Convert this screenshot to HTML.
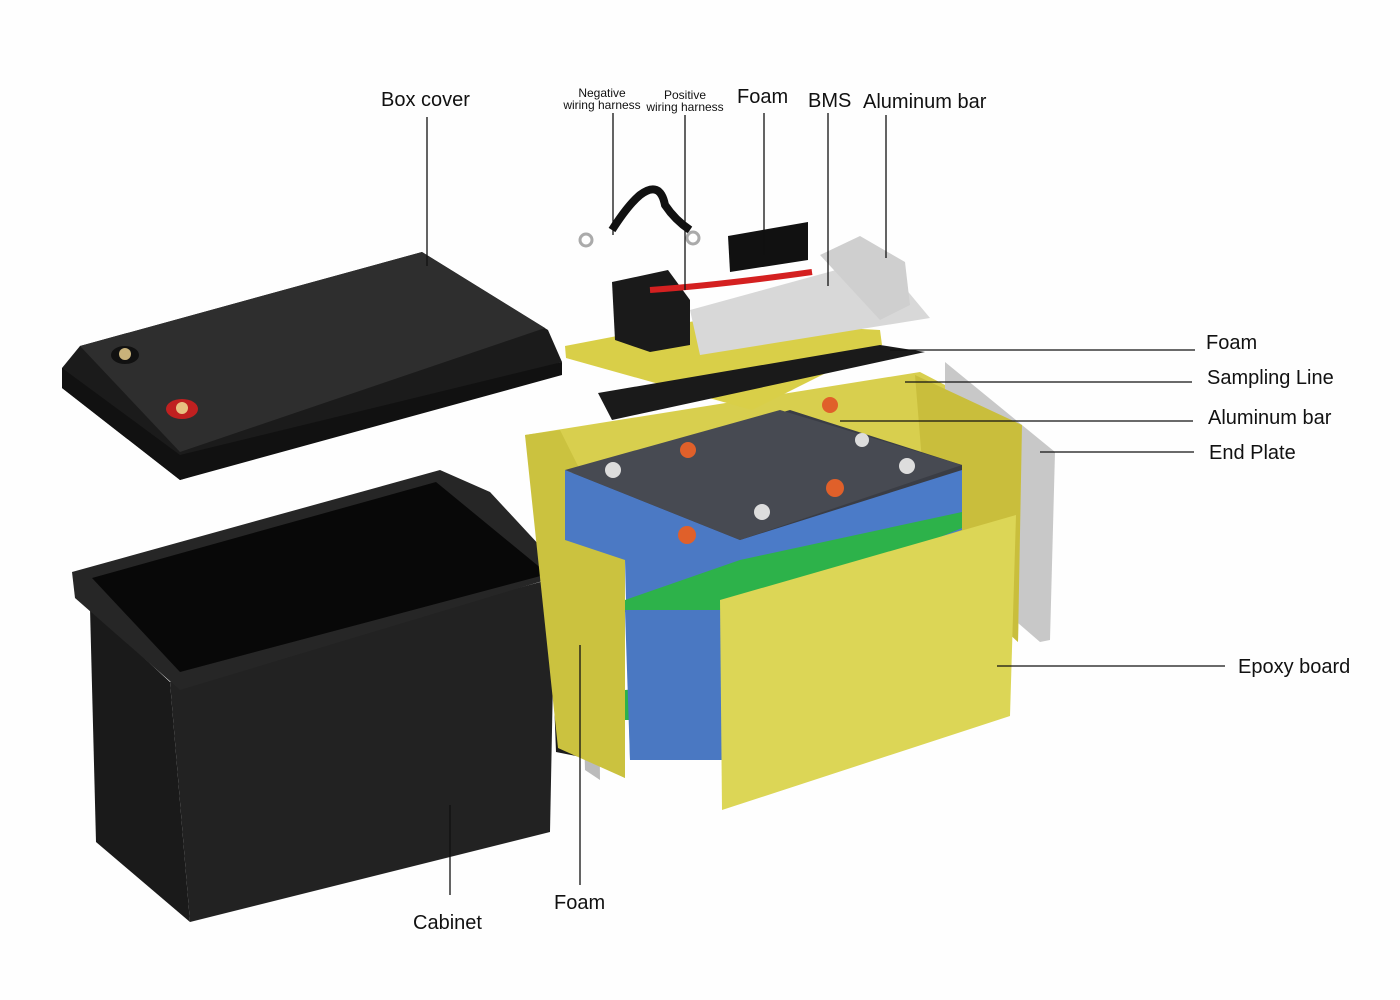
<!DOCTYPE html>
<html><head><meta charset="utf-8"><style>
html,body{margin:0;padding:0;background:#fefefe;}
svg{display:block}
text{font-family:"Liberation Sans","DejaVu Sans",sans-serif;fill:#111}
</style></head><body>
<svg width="1400" height="1000" viewBox="0 0 1400 1000" xmlns="http://www.w3.org/2000/svg">
<rect width="1400" height="1000" fill="#fefefe"/>
<!-- Box cover -->
<polygon points="62,368 80,346 422,252 548,330 562,362 180,480 62,388" fill="#1b1b1b"/>
<polygon points="80,346 422,252 545,328 180,452" fill="#2e2e2e"/>
<polygon points="62,368 180,455 562,362 562,375 180,480 62,388" fill="#111"/>
<ellipse cx="125" cy="355" rx="14" ry="9" fill="#111"/><circle cx="125" cy="354" r="6" fill="#c9b27a"/>
<ellipse cx="182" cy="409" rx="16" ry="10" fill="#c02020"/><circle cx="182" cy="408" r="6" fill="#e8c080"/>
<!-- Cabinet -->
<polygon points="90,608 170,682 190,922 96,842" fill="#1a1a1a"/>
<polygon points="170,682 555,578 550,832 190,922" fill="#222"/>
<polygon points="72,572 440,470 490,492 566,574 180,690 75,598" fill="#262626"/>
<polygon points="92,578 436,482 548,574 180,672" fill="#080808"/>
<!-- Foam strip -->
<polygon points="550,592 592,578 596,760 556,752" fill="#1c1c1c"/>
<polygon points="580,590 598,580 600,780 585,770" fill="#bbb"/>
<!-- yellow panels -->
<polygon points="525,435 920,372 1022,425 1018,642 930,560 625,560 625,778 560,745 540,520" fill="#d8cf4e"/>
<polygon points="525,435 560,430 625,560 625,778 558,748" fill="#cbc23f"/>
<polygon points="945,362 1055,452 1050,640 1040,642 945,560" fill="#c8c8c8"/>
<polygon points="915,375 1022,425 1018,642 930,560" fill="#c9be3c"/>
<!-- cells -->
<polygon points="565,475 790,410 962,465 962,520 740,585 565,530" fill="#3a3d45"/>
<polygon points="565,470 740,540 740,760 630,760 625,560 565,540" fill="#4b79c4"/>
<polygon points="740,540 962,470 962,530 740,600" fill="#4b7bc8"/>
<polygon points="565,470 780,410 962,465 740,540" fill="#474a52"/>
<polygon points="625,600 740,560 962,512 962,528 740,620 625,612" fill="#2db24a"/>
<polygon points="625,690 740,680 740,720 625,720" fill="#2db24a"/>
<polygon points="625,610 740,610 740,760 630,760" fill="#4a78c2"/>
<circle cx="687" cy="535" r="9" fill="#e0602a"/><circle cx="835" cy="488" r="9" fill="#e0602a"/><circle cx="688" cy="450" r="8" fill="#e0602a"/><circle cx="830" cy="405" r="8" fill="#e0602a"/>
<circle cx="613" cy="470" r="8" fill="#ddd"/><circle cx="762" cy="512" r="8" fill="#ddd"/><circle cx="907" cy="466" r="8" fill="#ddd"/><circle cx="862" cy="440" r="7" fill="#ddd"/>
<!-- front epoxy -->
<polygon points="720,600 1016,515 1010,716 722,810" fill="#dcd656"/>
<!-- top sheet & BMS -->
<polygon points="565,346 700,320 880,330 882,345 752,410 566,358" fill="#d9cf48"/>
<polygon points="598,393 880,345 925,352 612,420" fill="#1a1a1a"/>
<polygon points="612,282 668,270 690,300 690,345 650,352 615,340" fill="#1a1a1a"/>
<polygon points="690,310 880,258 930,318 700,355" fill="#d8d8d8"/>
<polygon points="820,255 860,236 905,262 910,305 880,320" fill="#cfcfcf"/>
<polygon points="728,236 808,222 808,260 730,272" fill="#111"/>
<path d="M650 290 Q720 285 812 272" stroke="#d42020" stroke-width="6" fill="none"/>
<path d="M612 230 Q628 205 640 195 Q660 180 665 205 Q675 220 690 230" stroke="#111" stroke-width="8" fill="none"/>
<circle cx="586" cy="240" r="6" fill="none" stroke="#aaa" stroke-width="3"/><circle cx="693" cy="238" r="6" fill="none" stroke="#aaa" stroke-width="3"/>
<!-- leader lines -->
<g stroke="#111" stroke-width="1.3" fill="none">
<line x1="427" y1="117" x2="427" y2="266"/>
<line x1="613" y1="113" x2="613" y2="235"/>
<line x1="685" y1="115" x2="685" y2="290"/>
<line x1="764" y1="113" x2="764" y2="255"/>
<line x1="828" y1="113" x2="828" y2="286"/>
<line x1="886" y1="115" x2="886" y2="258"/>
<line x1="890" y1="350" x2="1195" y2="350"/>
<line x1="905" y1="382" x2="1192" y2="382"/>
<line x1="840" y1="421" x2="1193" y2="421"/>
<line x1="1040" y1="452" x2="1194" y2="452"/>
<line x1="997" y1="666" x2="1225" y2="666"/>
<line x1="450" y1="805" x2="450" y2="895"/>
<line x1="580" y1="645" x2="580" y2="885"/>
</g>
<g font-size="20">
<text x="381" y="106">Box cover</text>
<text x="737" y="103">Foam</text>
<text x="808" y="107">BMS</text>
<text x="863" y="108">Aluminum bar</text>
<text x="1206" y="349">Foam</text>
<text x="1207" y="384">Sampling Line</text>
<text x="1208" y="424">Aluminum bar</text>
<text x="1209" y="459">End Plate</text>
<text x="1238" y="673">Epoxy board</text>
<text x="413" y="929">Cabinet</text>
<text x="554" y="909">Foam</text>
</g>
<g font-size="12" text-anchor="middle">
<text x="602" y="97">Negative</text><text x="602" y="109">wiring harness</text>
<text x="685" y="99">Positive</text><text x="685" y="111">wiring harness</text>
</g>
</svg>
</body></html>
